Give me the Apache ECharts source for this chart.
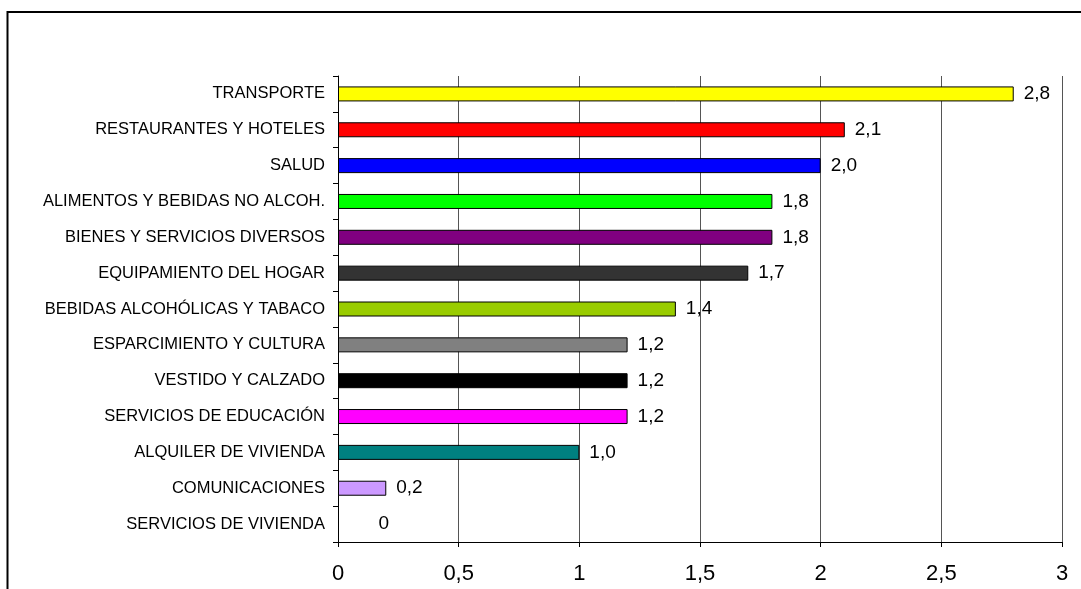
<!DOCTYPE html>
<html>
<head>
<meta charset="utf-8">
<script src="https://cdn.jsdelivr.net/npm/echarts@6/dist/echarts.min.js"></script>
<style>
  html, body { margin: 0; padding: 0; background: #fff; }
  #chart { width: 1081px; height: 589px; }
</style>
</head>
<body>
<div id="chart"></div>
<script>
// categorías de arriba hacia abajo
const categories = [
  'TRANSPORTE',
  'RESTAURANTES Y HOTELES',
  'SALUD',
  'ALIMENTOS Y BEBIDAS NO ALCOH.',
  'BIENES Y SERVICIOS DIVERSOS',
  'EQUIPAMIENTO DEL HOGAR',
  'BEBIDAS ALCOHÓLICAS Y TABACO',
  'ESPARCIMIENTO Y CULTURA',
  'VESTIDO Y CALZADO',
  'SERVICIOS DE EDUCACIÓN',
  'ALQUILER DE VIVIENDA',
  'COMUNICACIONES',
  'SERVICIOS DE VIVIENDA'
];
const values = [2.8, 2.1, 2.0, 1.8, 1.8, 1.7, 1.4, 1.2, 1.2, 1.2, 1.0, 0.2, 0];
const barColors = [
  '#ffff00', '#ff0000', '#0000ff', '#00ff00', '#800080', '#333333',
  '#99cc00', '#808080', '#000000', '#ff00ff', '#008080', '#cc99ff', '#ffffff'
];
const xTicks = [0, 0.5, 1, 1.5, 2, 2.5, 3];

const fmt = v => (v === 0 ? '0' : v.toFixed(1).replace('.', ','));
const font = 'Liberation Sans, Arial, sans-serif';

const chart = echarts.init(document.getElementById('chart'));

const option = {
  animation: false,
  graphic: [{
    type: 'rect',
    shape: { x: 7.5, y: 12, width: 1200, height: 800 },
    style: { fill: 'none', stroke: '#000', lineWidth: 2 },
    silent: true,
    z: 0
  }],
  grid: { left: 338, right: 19, top: 76, bottom: 47 },
  xAxis: {
    type: 'value',
    min: xTicks[0],
    max: xTicks[xTicks.length - 1],
    interval: 0.5,
    axisLine: { show: true, lineStyle: { color: '#000', width: 1 } },
    axisTick: { show: true, length: 5, lineStyle: { color: '#000' } },
    axisLabel: {
      margin: 21,
      fontFamily: font,
      fontSize: 22,
      color: '#000',
      formatter: v => String(v).replace('.', ',')
    },
    splitLine: { show: true, lineStyle: { color: '#555', width: 1 } }
  },
  yAxis: {
    type: 'category',
    data: categories,
    inverse: true,
    axisLine: { show: true, lineStyle: { color: '#000', width: 1 } },
    axisTick: { show: true, length: 5, inside: false, lineStyle: { color: '#000' } },
    axisLabel: {
      margin: 13,
      fontFamily: font,
      fontSize: 16.5,
      color: '#000'
    }
  },
  series: [{
    type: 'bar',
    barWidth: 15,
    data: values.map((v, i) => ({
      value: v,
      itemStyle: {
        color: barColors[i],
        borderColor: v === 0 ? 'transparent' : '#000',
        borderWidth: 1
      },
      label: v === 0 ? { offset: [30, 0] } : {}
    })),
    label: {
      show: true,
      position: 'right',
      distance: 10,
      fontFamily: font,
      fontSize: 19,
      color: '#000',
      formatter: p => fmt(p.value)
    }
  }]
};

chart.setOption(option);
</script>
</body>
</html>
